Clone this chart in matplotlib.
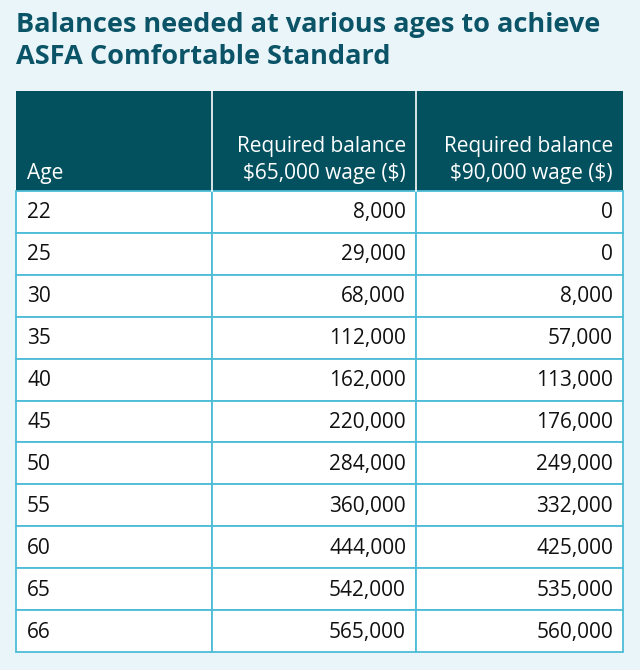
import matplotlib.pyplot as plt
from matplotlib.patches import Rectangle

plt.rcParams["font.family"] = ["Open Sans", "DejaVu Sans"]

title = "Balances needed at various ages to achieve\nASFA Comfortable Standard"
headers = ["Age", "Required balance\n\\$65,000 wage (\\$)", "Required balance\n\\$90,000 wage (\\$)"]
ages = [22, 25, 30, 35, 40, 45, 50, 55, 60, 65, 66]
bal_65k = [8000, 29000, 68000, 112000, 162000, 220000, 284000, 360000, 444000, 542000, 565000]
bal_90k = [0, 0, 8000, 57000, 113000, 176000, 249000, 332000, 425000, 535000, 560000]

bg = "#e9f5f8"
head_col = "#03505f"
line_col = "#4dbdd7"
title_col = "#0b5468"

fig = plt.figure(figsize=(6.4, 6.7), dpi=100, facecolor=bg)
ax = fig.add_axes([0, 0, 1, 1])
ax.set_xlim(0, 640)
ax.set_ylim(670, 0)
ax.axis("off")

fig.text(16 / 640, 1 - 12 / 670, title, ha="left", va="top", fontsize=19.5,
         fontweight="bold", color=title_col, linespacing=1.3)

col_x = [16, 212, 416, 623]
head_top, head_bot = 91, 191
row_h = (652 - 191) / len(ages)

# header
ax.add_patch(Rectangle((col_x[0], head_top), col_x[-1] - col_x[0], head_bot - head_top,
                       facecolor=head_col, edgecolor="none"))
for x in col_x[1:-1]:
    ax.plot([x, x], [head_top, head_bot], color="white", lw=1.2)
ax.text(col_x[0] + 11, head_bot - 12, headers[0], ha="left", va="baseline",
        color="white", fontsize=15)
for i in (1, 2):
    ax.text(col_x[i + 1] - 10, head_bot - 12, headers[i], ha="right", va="baseline",
            color="white", fontsize=15, linespacing=1.4, multialignment="right")

# body rows
for r, (a, b1, b2) in enumerate(zip(ages, bal_65k, bal_90k)):
    y0 = head_bot + r * row_h
    for c in range(3):
        ax.add_patch(Rectangle((col_x[c], y0), col_x[c + 1] - col_x[c], row_h,
                               facecolor="white", edgecolor=line_col, lw=1.3))
    yc = y0 + row_h / 2 + 1
    ax.text(col_x[0] + 11, yc, str(a), ha="left", va="center", fontsize=15, color="#111111")
    ax.text(col_x[2] - 10, yc, f"{b1:,}", ha="right", va="center", fontsize=15, color="#111111")
    ax.text(col_x[3] - 10, yc, f"{b2:,}", ha="right", va="center", fontsize=15, color="#111111")

fig.savefig("out.png", dpi=100, facecolor=bg)
